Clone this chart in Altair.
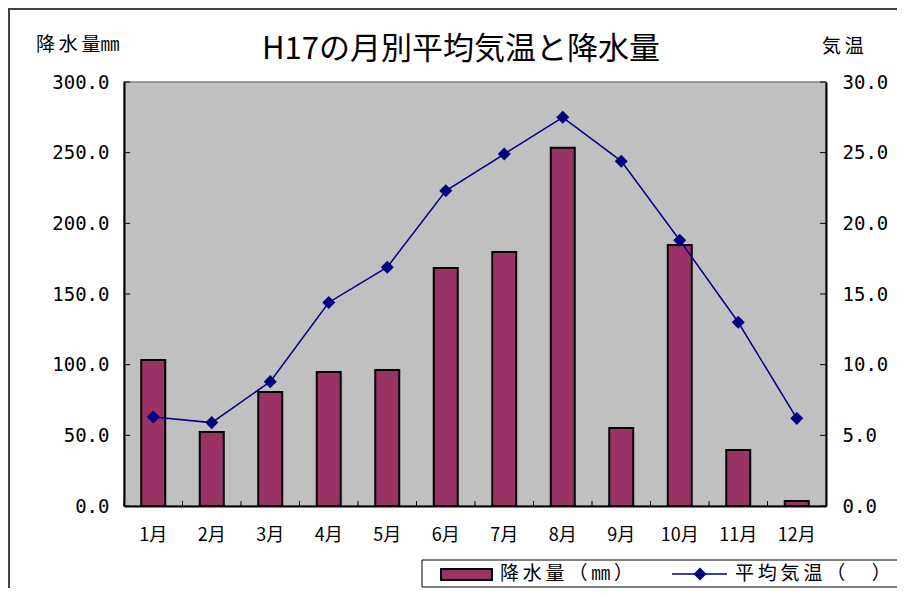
import altair as alt
import pandas as pd

months = ["1月", "2月", "3月", "4月", "5月", "6月", "7月", "8月", "9月", "10月", "11月", "12月"]
precip = [103.3, 52.4, 80.7, 94.8, 96.2, 168.4, 179.8, 253.4, 55.2, 184.7, 39.6, 3.5]
temp = [6.3, 5.9, 8.8, 14.4, 16.9, 22.3, 24.9, 27.5, 24.4, 18.8, 13.0, 6.2]
precip_ticks = [0, 50, 100, 150, 200, 250, 300]
temp_ticks = [0, 5, 10, 15, 20, 25, 30]

SP = "\u2009"
title_text = "H17の月別平均気温と降水量"
left_title = SP.join("降水量") + "㎜"
right_title = SP.join("気温")
legend_bar = SP.join("降水量（㎜）")
legend_line = SP.join("平均気温（　）")

W, H = 702, 424
JP = "Noto Sans CJK JP"
NUM = "DejaVu Sans Mono"
BAR = "#993366"
LINE = "#000080"

df = pd.DataFrame({"month": months, "precip": precip, "temp": temp})
pt = pd.DataFrame({"precip": precip_ticks})
tt = pd.DataFrame({"temp": temp_ticks})
one = pd.DataFrame({"a": [0]})

x_axis = alt.Axis(title=None, labelAngle=0, labelFont=JP, labelFontSize=18,
                  labelColor="black", ticks=False, labelPadding=20,
                  domainColor="black", domainWidth=2)
x_scale = alt.Scale(paddingInner=0.59, paddingOuter=0.295)
yl_axis = alt.Axis(title=None, orient="left", values=precip_ticks, format=".1f",
                   labelFont=NUM, labelFontSize=19, labelColor="black",
                   ticks=False, labelPadding=15, grid=False,
                   domainColor="black", domainWidth=2)
yl_scale = alt.Scale(domain=[0, 300], nice=False)
yr_axis = alt.Axis(title=None, orient="right", values=temp_ticks, format=".1f",
                   labelFont=NUM, labelFontSize=19, labelColor="black",
                   ticks=False, labelPadding=16, grid=False,
                   domainColor="black", domainWidth=2)
yr_scale = alt.Scale(domain=[0, 30], nice=False)


def X():
    return alt.X("month:N", sort=months, scale=x_scale, axis=x_axis)


bars = alt.Chart(df).mark_bar(color=BAR, stroke="black", strokeWidth=2).encode(
    x=X(), y=alt.Y("precip:Q", scale=yl_scale, axis=yl_axis))
lticks = alt.Chart(pt).mark_rule(color="black", strokeWidth=1).encode(
    y=alt.Y("precip:Q", scale=yl_scale, axis=yl_axis), x=alt.value(0), x2=alt.value(6))
xticks = alt.Chart(df).mark_rule(color="black", strokeWidth=1, xOffset=-W / 24).encode(
    x=X(), y=alt.value(H), y2=alt.value(H - 5))

left = alt.layer(bars, lticks, xticks)

line = alt.Chart(df).mark_line(color=LINE, strokeWidth=1.5).encode(
    x=X(), y=alt.Y("temp:Q", scale=yr_scale, axis=yr_axis))
pts = alt.Chart(df).mark_point(shape="diamond", filled=True, color=LINE, size=170, opacity=1).encode(
    x=X(), y=alt.Y("temp:Q", scale=yr_scale, axis=yr_axis))
rticks = alt.Chart(tt).mark_rule(color="black", strokeWidth=1).encode(
    y=alt.Y("temp:Q", scale=yr_scale, axis=yr_axis), x=alt.value(W), x2=alt.value(W - 6))

right = alt.layer(line, pts, rticks)

base = alt.Chart(one)
deco = alt.layer(
    base.mark_text(text=title_text, font=JP, fontSize=31, align="center", baseline="middle", color="black").encode(
        x=alt.value(337), y=alt.value(-32)),
    base.mark_text(text=left_title, font=JP, fontSize=19, align="left", baseline="middle", color="black").encode(
        x=alt.value(-88), y=alt.value(-37)),
    base.mark_text(text=right_title, font=JP, fontSize=19, align="left", baseline="middle", color="black").encode(
        x=alt.value(698), y=alt.value(-35)),
    # frame
    base.mark_rule(color="#404040", strokeWidth=2).encode(
        x=alt.value(-116), x2=alt.value(800), y=alt.value(-73)),
    base.mark_rule(color="#404040", strokeWidth=2).encode(
        x=alt.value(-115), y=alt.value(-80), y2=alt.value(520)),
    # legend
    base.mark_rect(fill="white", stroke="black", strokeWidth=1).encode(
        x=alt.value(298), x2=alt.value(800), y=alt.value(478), y2=alt.value(505)),
    base.mark_rect(fill=BAR, stroke="black", strokeWidth=2).encode(
        x=alt.value(317), x2=alt.value(368), y=alt.value(487), y2=alt.value(498)),
    base.mark_text(text=legend_bar, font=JP, fontSize=19, align="left", baseline="middle", color="black").encode(
        x=alt.value(376), y=alt.value(492)),
    base.mark_rule(color=LINE, strokeWidth=1.5).encode(
        x=alt.value(548), x2=alt.value(603), y=alt.value(492)),
    base.mark_point(shape="diamond", filled=True, color=LINE, size=170, opacity=1).encode(
        x=alt.value(576), y=alt.value(492)),
    base.mark_text(text=legend_line, font=JP, fontSize=19, align="left", baseline="middle", color="black").encode(
        x=alt.value(611), y=alt.value(492)),
)

chart = alt.layer(left, right, deco).resolve_scale(y="independent").properties(
    width=W, height=H,
    autosize=alt.AutoSizeParams(type="none"),
    padding={"left": 116, "top": 74, "right": 71, "bottom": 82},
    background="white",
).configure_view(fill="#C0C0C0", stroke="#808080", strokeWidth=1.5)

chart.save("out.html", embed_options={"renderer": "svg", "actions": False})
